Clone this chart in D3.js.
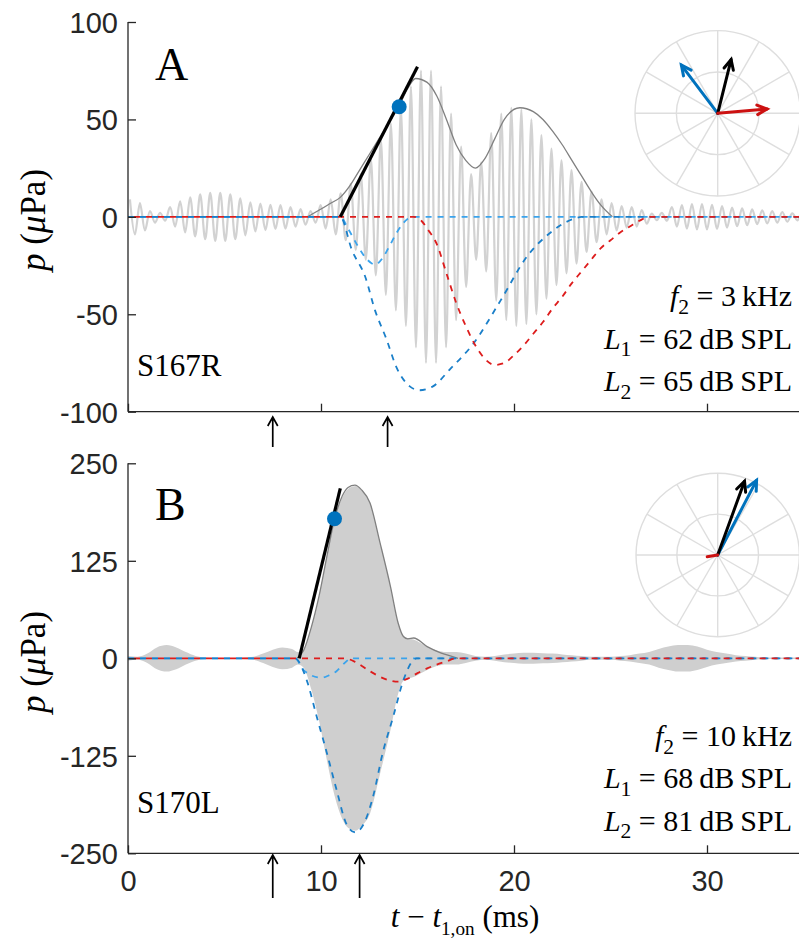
<!DOCTYPE html>
<html lang="en">
<head>
<meta charset="UTF-8">
<title>DPOAE time course</title>
<script src="https://d3js.org/d3.v7.min.js"></script>
<style>
  body { margin: 0; background: #fff; }
  svg { display: block; }
  .tick-label { font-family: "Liberation Sans", Arial, sans-serif; font-size: 29px; fill: #262626; }
  .math { font-family: "Liberation Serif", "Times New Roman", serif; fill: #000; }
</style>
</head>
<body>
<svg id="chart" width="799" height="938"></svg>
<script>
// ---- data ----
const tDomain = [0, 35];
const xTicks = [0, 10, 20, 30];
const yTicksA = [100, 50, 0, -50, -100];
const yTicksB = [250, 125, 0, -125, -250];

// panel A: recorded waveform, one peak amplitude per carrier cycle
const periodA = 0.52;
const startA = 0.1;
const peaksA = [9, 7, 3, 2, 5, 8, 10, 11.5, 12.3, 12.3, 11.5, 9.5, 7.5, 6.8, 6.2, 6, 5, 4, 3, 6,
  9, 12, 17, 22, 30, 40, 48, 56, 67, 75, 75, 67, 53, 36, 22, 28, 43, 53, 56, 55,
  50, 42, 35, 29, 24, 18, 13, 9, 7, 5.5, 5, 3.5, 1.7, 2, 5, 6, 6.5, 6.5, 6.2, 5.5,
  4.8, 4.3, 3.8, 3.4, 3, 2.5, 1.8, 3];

// panel A: envelope and components  [t (ms), p (uPa)]
const envA = [[9.3, 0], [10, 4], [10.5, 7], [11, 10], [11.5, 16], [12, 24], [12.5, 32], [13, 40],
  [13.5, 48], [14, 56], [14.5, 66], [14.9, 71], [15.5, 69], [16, 62], [16.5, 50], [17, 37],
  [17.5, 29], [18, 25], [18.5, 30], [19, 40], [19.5, 50], [20.3, 56], [21, 54], [21.5, 50],
  [22, 44], [22.5, 37], [23, 29], [23.5, 21], [24, 13], [24.5, 6], [25.1, 0]];
const compSmallA = [[0, 0], [11, 0], [11.4, -6], [11.85, -14], [12.4, -22], [12.8, -24.5], [13.2, -21],
  [13.6, -14], [13.9, -8.5], [14.2, -4], [14.5, -1], [14.7, 0], [35, 0]];
const compBigA = [[0, 0], [11, 0], [11.6, -17], [12.3, -31], [12.8, -48], [13.4, -63], [13.9, -77],
  [14.6, -87], [15.1, -89], [15.8, -87], [16.7, -78], [17.9, -65], [19.3, -43], [20.7, -20],
  [21.9, -8], [23.1, -1], [23.5, 0], [35, 0]];
const compRedA = [[0, 0], [14.8, 0], [15.2, -2], [15.5, -6], [16, -14], [16.5, -29], [17, -44],
  [17.5, -56], [18, -66], [18.5, -73], [19, -76], [19.5, -75], [20, -71], [20.5, -66], [21, -60],
  [21.5, -54], [22, -47], [22.5, -41], [23, -34], [23.5, -28], [24, -22], [24.5, -16], [25, -12],
  [25.5, -8], [26, -5], [26.5, -2], [27, 0], [35, 0]];
const tangentA = [[11.0, 0], [15.0, 77]];
const dotA = [14.05, 56.5];
const markersA = [7.5, 13.45];

// panel B: recorded waveform amplitude (dense 10 kHz carrier drawn as a band)
const ampB = [[0, 3], [0.5, 2], [1, 6], [1.5, 14], [2, 17], [2.5, 14], [3, 8], [3.5, 3], [4, 1],
  [4.5, 0.5], [5.5, 0.5], [6, 1], [6.5, 2], [7, 6], [7.5, 11], [8, 14], [8.5, 12], [8.8, 8],
  [9.1, 12], [9.5, 40], [9.9, 80], [10.3, 130], [10.7, 176], [11.1, 206], [11.5, 219],
  [11.8, 221], [12.1, 215], [12.54, 199], [13.06, 148], [13.6, 92], [14, 45], [14.3, 28],
  [14.8, 24], [15.5, 15], [16, 10], [16.5, 8], [17, 8], [17.5, 6], [18, 3], [18.5, 2], [19, 3],
  [19.5, 5], [20, 6], [20.5, 7], [21, 7], [21.5, 6.5], [22, 6], [22.5, 5], [23, 4], [23.5, 3],
  [24, 2], [25, 2], [25.5, 3], [26, 4], [26.5, 6], [27, 8], [27.5, 12], [28, 15], [28.5, 17],
  [29, 17], [29.5, 15], [30, 11], [30.5, 8], [31, 6], [31.5, 4], [32, 3], [32.5, 2], [33, 1],
  [35, 1]];
const envB = [[8.75, 0], [9.1, 10], [9.5, 40], [9.9, 80], [10.3, 130], [10.7, 178], [11.1, 208],
  [11.4, 219], [11.76, 222], [12.1, 216], [12.54, 199], [13.06, 148], [13.6, 92], [14, 45],
  [14.27, 28], [14.5, 25], [14.8, 26], [15.5, 15], [16.2, 7], [16.7, 3], [17.1, 0]];
const compSmallB = [[0, 0], [8.65, 0], [9.08, -14.5], [9.5, -22], [10.03, -25], [10.4, -22],
  [10.8, -16.6], [11.1, -9], [11.4, -2], [11.5, 0], [35, 0]];
const compBigB = [[0, 0], [8.65, 0], [9.26, -28], [9.77, -74], [10.3, -121], [10.8, -168],
  [11.33, -213], [11.76, -223], [12.2, -213], [12.7, -177], [13.2, -121], [13.75, -74],
  [14.27, -28], [14.8, -2], [14.95, 0], [35, 0]];
const compRedB = [[0, 0], [11.2, 0], [11.8, -5], [12.5, -16], [13, -23], [13.5, -28], [14, -30],
  [14.5, -26], [15, -19], [15.5, -13], [16, -8], [16.5, -4], [17, 0], [35, 0]];
const tangentB = [[8.87, 0], [11.0, 218]];
const dotB = [10.7, 179];
const markersB = [7.5, 12.0];

// phasors: [relative magnitude, angle in degrees]
const phasorColors = ['#0072bd', '#000000', '#cc1111'];
const phasorsA = [[0.73, 127], [0.67, 76], [0.6, 5]];
const phasorsB = [[1.03, 62.5], [0.96, 70], [0.13, 189]];

// ---- drawing ----
const svg = d3.select('#chart');
const x = d3.scaleLinear().domain(tDomain).range([128, 803.5]);

const colGray = '#d2d2d2';
const colEnv = '#808080';
const colBig = '#1a7fc9';
const colSmall = '#3aa3ec';
const colRed = '#dd1c1c';
const axisCol = '#262626';

function mathText(parent, px, py, parts, size, anchor) {
    const t = parent.append('text')
        .attr('class', 'math')
        .attr('x', px).attr('y', py)
        .attr('font-size', size)
        .attr('text-anchor', anchor || 'start');
    let shift = 0;
    parts.forEach(p => {
        const s = t.append('tspan').text(p.t);
        if (p.i) s.attr('font-style', 'italic');
        const want = p.sub ? size * 0.25 : 0;
        if (want !== shift) { s.attr('dy', want - shift); shift = want; }
        if (p.sub) s.attr('font-size', size * (p.small || 0.72));
    });
    return t;
}

function drawPanel(opt) {
    const g = svg.append('g');
    const y = d3.scaleLinear().domain(opt.yDomain).range(opt.yRange);
    const y0 = opt.yRange[0];

    const line = d3.line().x(d => x(d[0])).y(d => y(d[1]));

    // polar inset
    const pol = g.append('g').attr('transform', `translate(${opt.polar[0]},${opt.polar[1]})`);
    const r = d3.scaleLinear().domain([0, 1]).range([0, opt.polar[2]]);
    [0.5, 1].forEach(v => pol.append('circle').attr('r', r(v))
        .attr('fill', 'none').attr('stroke', '#dedede').attr('stroke-width', 1.4));
    d3.range(0, 360, 30).forEach(a => {
        const rad = a * Math.PI / 180;
        pol.append('line').attr('x1', 0).attr('y1', 0)
            .attr('x2', r(1) * Math.cos(rad)).attr('y2', -r(1) * Math.sin(rad))
            .attr('stroke', '#dedede').attr('stroke-width', 1.4);
    });
    opt.phasors.forEach((p, i) => {
        const rad = p[1] * Math.PI / 180;
        const ex = r(p[0]) * Math.cos(rad), ey = -r(p[0]) * Math.sin(rad);
        const c = phasorColors[i];
        pol.append('line').attr('x1', 0).attr('y1', 0).attr('x2', ex).attr('y2', ey)
            .attr('stroke', c).attr('stroke-width', 3).attr('stroke-linecap', 'round');
        if (p[0] > 0.3) {
            const h = 11, w = 0.45;
            const pts = [
                [ex - h * Math.cos(rad - w), ey + h * Math.sin(rad - w)],
                [ex, ey],
                [ex - h * Math.cos(rad + w), ey + h * Math.sin(rad + w)]
            ];
            pol.append('path').attr('d', d3.line()(pts)).attr('fill', 'none')
                .attr('stroke', c).attr('stroke-width', 3)
                .attr('stroke-linejoin', 'miter').attr('stroke-linecap', 'round');
        }
    });

    // recorded waveform
    if (opt.peaks) {
        const pts = [];
        opt.peaks.forEach((a, k) => {
            const t = opt.start + k * opt.period;
            pts.push([t, a]);
            pts.push([t + opt.period / 2, -a]);
        });
        const wave = d3.line().x(d => x(d[0])).y(d => y(d[1])).curve(d3.curveCatmullRom);
        g.append('path').attr('d', wave(pts))
            .attr('fill', 'none').attr('stroke', colGray).attr('stroke-width', 2.2);
    }
    if (opt.amp) {
        const area = d3.area().x(d => x(d[0])).y0(d => y(-d[1])).y1(d => y(d[1]))
            .curve(d3.curveMonotoneX);
        g.append('path').attr('d', area(opt.amp)).attr('fill', '#cfcfcf');
    }

    const smooth = d3.line().x(d => x(d[0])).y(d => y(d[1])).curve(d3.curveMonotoneX);

    // envelope
    g.append('path').attr('d', smooth(opt.env)).attr('fill', 'none')
        .attr('stroke', colEnv).attr('stroke-width', 1.3);

    // components
    g.append('path').attr('d', smooth(opt.small)).attr('fill', 'none')
        .attr('stroke', colSmall).attr('stroke-width', 1.8).attr('stroke-dasharray', '6,6')
        .attr('stroke-dashoffset', 0);
    g.append('path').attr('d', smooth(opt.big)).attr('fill', 'none')
        .attr('stroke', colBig).attr('stroke-width', 1.8).attr('stroke-dasharray', '6,6');
    g.append('path').attr('d', smooth(opt.red)).attr('fill', 'none')
        .attr('stroke', colRed).attr('stroke-width', 1.8).attr('stroke-dasharray', '6,6')
        .attr('stroke-dashoffset', 6);

    // tangent and onset point
    g.append('path').attr('d', line(opt.tangent)).attr('stroke', '#000')
        .attr('stroke-width', 3.2).attr('fill', 'none');
    g.append('circle').attr('cx', x(opt.dot[0])).attr('cy', y(opt.dot[1])).attr('r', 7.5)
        .attr('fill', '#0072bd');

    // axes
    const yAxis = g.append('g').attr('transform', 'translate(128,0)')
        .call(d3.axisLeft(y).tickValues(opt.yTicks).tickSize(-8).tickFormat(d => String(d)));
    yAxis.select('.domain').attr('d', `M0,${opt.yRange[1]}V${y0}`);
    const xAxis = g.append('g').attr('transform', `translate(0,${y0})`)
        .call(d3.axisBottom(x).tickValues(xTicks).tickSize(-8)
            .tickFormat(opt.xLabels ? (d => String(d)) : ''));
    xAxis.select('.domain').attr('d', `M128,0H799`);
    [yAxis, xAxis].forEach(a => {
        a.selectAll('path, line').attr('stroke', axisCol).attr('stroke-width', 1.3);
        a.selectAll('text').attr('class', 'tick-label').attr('font-size', null)
            .attr('font-family', null).attr('fill', null);
    });
    yAxis.selectAll('.tick text').attr('x', -10).attr('dy', '0.36em');
    xAxis.selectAll('.tick text').attr('dy', null).attr('y', 38);

    // time markers
    opt.markers.forEach(t => {
        const mx = x(t);
        g.append('path').attr('d', `M${mx},${opt.markerY[1]}V${opt.markerY[0]}M${mx - 5},${opt.markerY[0] + 9}L${mx},${opt.markerY[0]}L${mx + 5},${opt.markerY[0] + 9}`)
            .attr('fill', 'none').attr('stroke', '#000').attr('stroke-width', 1.7);
    });

    // labels
    mathText(g, 155, opt.letterY, [{t: opt.letter}], 46);
    mathText(g, 137, opt.idY, [{t: opt.id}], 31);
    opt.conds.forEach((c, i) => mathText(g, 792, opt.condY[i], c, 30, 'end'));
    mathText(g, 0, 0, [{t: 'p', i: true}, {t: ' ('}, {t: 'μ', i: true}, {t: 'Pa)'}], 35, 'middle')
        .attr('transform', `translate(45,${opt.ylabY}) rotate(-90)`);
}

drawPanel({
    yDomain: [-100, 100], yRange: [411.7, 22], yTicks: yTicksA, xLabels: false,
    peaks: peaksA, start: startA, period: periodA,
    env: envA, small: compSmallA, big: compBigA, red: compRedA,
    tangent: tangentA, dot: dotA, markers: markersA, markerY: [417, 447],
    polar: [717.7, 113.3, 82.7], phasors: phasorsA,
    letter: 'A', letterY: 80, id: 'S167R', idY: 376, ylabY: 220,
    condY: [306, 348.5, 391],
    conds: [
        [{t: 'f', i: true}, {t: '2', sub: true}, {t: ' = 3\u2009kHz'}],
        [{t: 'L', i: true}, {t: '1', sub: true}, {t: ' = 62\u2009dB\u2009SPL'}],
        [{t: 'L', i: true}, {t: '2', sub: true}, {t: ' = 65\u2009dB\u2009SPL'}]
    ]
});

drawPanel({
    yDomain: [-250, 250], yRange: [853.3, 463.3], yTicks: yTicksB, xLabels: true,
    amp: ampB,
    env: envB, small: compSmallB, big: compBigB, red: compRedB,
    tangent: tangentB, dot: dotB, markers: markersB, markerY: [855, 898],
    polar: [717.7, 555, 81.7], phasors: phasorsB,
    letter: 'B', letterY: 520, id: 'S170L', idY: 812.7, ylabY: 662,
    condY: [746, 788.3, 830.7],
    conds: [
        [{t: 'f', i: true}, {t: '2', sub: true}, {t: ' = 10\u2009kHz'}],
        [{t: 'L', i: true}, {t: '1', sub: true}, {t: ' = 68\u2009dB\u2009SPL'}],
        [{t: 'L', i: true}, {t: '2', sub: true}, {t: ' = 81\u2009dB\u2009SPL'}]
    ]
});

// shared x label
mathText(svg, 465, 927, [{t: 't', i: true}, {t: ' \u2212 '}, {t: 't', i: true},
    {t: '1,on', sub: true, small: 0.62}, {t: '  (ms)'}], 31, 'middle');
</script>
</body>
</html>
